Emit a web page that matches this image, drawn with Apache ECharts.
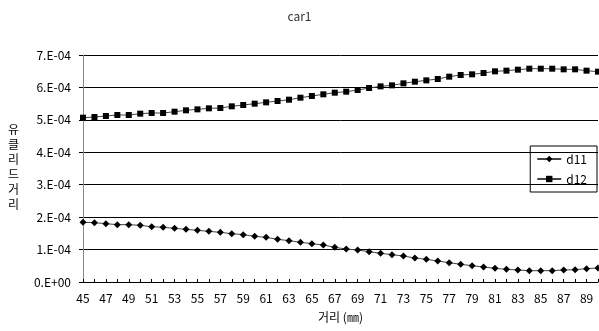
<!DOCTYPE html>
<html><head><meta charset="utf-8">
<script src="https://cdn.jsdelivr.net/npm/echarts@6/dist/echarts.min.js"></script>
<style>html,body{margin:0;padding:0;background:#fff}#c{width:599px;height:331px}</style>
</head><body><div id="c"></div>
<script>
const categories = [];
for (let i = 45; i <= 90; i++) categories.push(String(i));
const d11 = [1.840,1.830,1.799,1.768,1.768,1.747,1.706,1.686,1.655,1.624,1.593,1.562,1.532,1.490,1.460,1.408,1.377,1.316,1.275,1.223,1.182,1.141,1.069,1.018,0.987,0.935,0.884,0.843,0.802,0.740,0.699,0.648,0.596,0.545,0.504,0.463,0.421,0.391,0.370,0.349,0.349,0.349,0.370,0.380,0.411,0.432].map(v => v * 1e-4);
const d12 = [5.067,5.088,5.119,5.150,5.150,5.191,5.211,5.211,5.252,5.294,5.324,5.355,5.365,5.417,5.458,5.499,5.540,5.581,5.622,5.684,5.735,5.787,5.838,5.869,5.920,5.982,6.033,6.064,6.126,6.177,6.218,6.260,6.332,6.383,6.404,6.445,6.496,6.517,6.547,6.578,6.578,6.578,6.558,6.558,6.517,6.486].map(v => v * 1e-4);
const yTickLabels = ['0.E+00','1.E-04','2.E-04','3.E-04','4.E-04','5.E-04','6.E-04','7.E-04'];
const FONT = '"Noto Sans CJK KR", "DejaVu Sans", sans-serif';
const chart = echarts.init(document.getElementById('c'), null, {renderer: 'canvas'});
chart.setOption({
  animation: false,
  backgroundColor: '#fff',
  title: {text: 'car1', left: 'center', top: 5, textStyle: {fontSize: 12, fontWeight: 'normal', color: '#333', fontFamily: FONT}},
  grid: {left: 83, right: 1, top: 55, bottom: 49, containLabel: false},
  legend: {
    orient: 'vertical', right: 2, top: 146, itemGap: 8, itemWidth: 24, itemHeight: 8,
    borderColor: '#000', borderWidth: 1, padding: [7, 10, 7, 6],
    textStyle: {fontSize: 12, color: '#000', fontFamily: FONT},
    data: ['d11', 'd12']
  },
  xAxis: {
    type: 'category', data: categories, boundaryGap: false,
    name: '거리 (㎜)', nameLocation: 'middle', nameGap: 29,
    nameTextStyle: {fontSize: 12, color: '#000', fontFamily: FONT},
    axisLine: {lineStyle: {color: '#000', width: 1}},
    axisTick: {show: true, inside: true, length: 3, interval: 0, lineStyle: {color: '#000'}},
    axisLabel: {interval: 1, fontSize: 12, color: '#000', margin: 10, fontFamily: FONT},
    splitLine: {show: false}
  },
  yAxis: {
    type: 'value', min: 0, max: 7e-4, interval: 1e-4,
    axisLine: {show: true, lineStyle: {color: '#888', width: 1}},
    axisTick: {show: true, length: 4, lineStyle: {color: '#000'}},
    axisLabel: {fontSize: 12, color: '#000', margin: 12, fontFamily: FONT,
      formatter: v => yTickLabels[Math.round(v / 1e-4)]},
    splitLine: {show: true, lineStyle: {color: '#000', width: 1}}
  },
  graphic: [{
    type: 'text', left: 8, top: 122,
    style: {text: '유\n클\n리\n드\n거\n리', fontSize: 12, lineHeight: 15, fill: '#000', fontFamily: FONT, textAlign: 'center'}
  }],
  series: [
    {name: 'd11', type: 'line', data: d11, symbol: 'diamond', symbolSize: 7, showSymbol: true,
      lineStyle: {color: '#444', width: 1}, itemStyle: {color: '#000'}},
    {name: 'd12', type: 'line', data: d12, symbol: 'rect', symbolSize: 6, showSymbol: true,
      lineStyle: {color: '#444', width: 1}, itemStyle: {color: '#000'}}
  ]
});
</script></body></html>
